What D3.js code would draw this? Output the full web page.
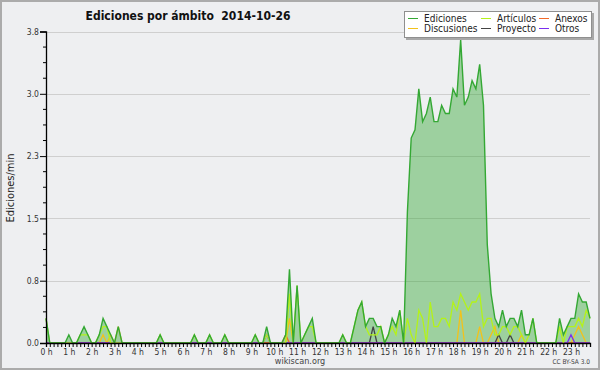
<!DOCTYPE html>
<html>
<head>
<meta charset="utf-8">
<script src="https://cdn.jsdelivr.net/npm/d3@7/dist/d3.min.js"></script>
<style>
  body { margin: 0; background: #fff; }
  text { font-family: "DejaVu Sans Condensed", "DejaVu Sans", sans-serif; }
</style>
</head>
<body>
<div id="chart"></div>
<script>
// Set up SVG dimensions
const w = 600;
const h = 370;
const margin = {top: 31.5, right: 10, bottom: 27, left: 46};

// Hour labels (one point every 10 minutes, 144 points)
const hours = d3.range(0, 24);
const yTicks = [0, 0.76, 1.52, 2.28, 3.04, 3.8];

// Ediciones por minuto, 10-minute buckets
const ediciones = [
  0.3,0,0,0,0,0,0.1,0,0,0.1,0.2,0.1,
  0,0,0.1,0.3,0.2,0.1,0,0.2,0,0,0,0,
  0,0,0,0,0,0,0.1,0,0,0,0,0,
  0,0,0,0.1,0,0,0,0.1,0,0,0,0.1,
  0,0,0,0,0,0,0,0.1,0,0,0.2,0,
  0,0,0,0.1,0.9,0,0.7,0,0.1,0.2,0.3,0,
  0,0,0,0,0,0,0.1,0,0,0.2,0.4,0.5,
  0.2,0.3,0.3,0.2,0.2,0,0.1,0.3,0.2,0.4,0,1.6,
  2.5,2.6,3.1,2.7,2.8,3.0,2.7,2.7,2.9,2.8,2.8,3.1,
  3.0,3.7,2.9,3.0,3.2,3.1,3.4,2.9,1.2,0.6,0.3,0.2,
  0.4,0.2,0.3,0.3,0.2,0.4,0.1,0.1,0.3,0,0,0,
  0,0,0,0.3,0.1,0.2,0.3,0.3,0.6,0.5,0.5,0.3
];
const articulos = [
  0.3,0,0,0,0,0,0,0,0,0.1,0.1,0.1,
  0,0,0.1,0.2,0.2,0,0,0,0,0,0,0,
  0,0,0,0,0,0,0.1,0,0,0,0,0,
  0,0,0,0.1,0,0,0,0.1,0,0,0,0.1,
  0,0,0,0,0,0,0,0.1,0,0,0.1,0,
  0,0,0,0,0.6,0,0.7,0,0.1,0.2,0.2,0,
  0,0,0,0,0,0,0.1,0,0,0.2,0.4,0.5,
  0.2,0.1,0.1,0.1,0.2,0,0.1,0.2,0.1,0.4,0,0.3,
  0.1,0,0.4,0.3,0,0.5,0.2,0.2,0.3,0.3,0.2,0.5,
  0.4,0.6,0.5,0.4,0.5,0.5,0.6,0.2,0.3,0.3,0.1,0.1,
  0.2,0.2,0.1,0.2,0.2,0.1,0,0.1,0.3,0,0,0,
  0,0,0,0.2,0,0.2,0.2,0.2,0.3,0.2,0.4,0.3
];
const discusiones = [
  0,0,0,0,0,0,0,0,0,0,0,0,
  0,0,0,0.1,0,0.1,0,0.2,0,0,0,0,
  0,0,0,0,0,0,0,0,0,0,0,0,
  0,0,0,0,0,0,0,0,0,0,0,0,
  0,0,0,0,0,0,0,0,0,0,0,0,
  0,0,0,0,0.3,0,0,0,0,0,0,0,
  0,0,0,0,0,0,0,0,0,0,0,0,
  0,0,0,0,0,0,0,0,0,0,0,0,
  0,0,0,0,0,0,0,0,0,0,0,0,
  0,0.4,0,0,0,0,0.2,0,0,0.1,0.2,0,
  0,0,0,0,0,0.1,0,0,0,0,0,0,
  0,0,0,0,0,0,0,0.1,0.2,0.1,0,0
];
const proyecto = [
  0,0,0,0,0,0,0,0,0,0,0,0,
  0,0,0,0,0,0,0,0,0,0,0,0,
  0,0,0,0,0,0,0,0,0,0,0,0,
  0,0,0,0,0,0,0,0,0,0,0,0,
  0,0,0,0,0,0,0,0,0,0,0,0,
  0,0,0,0,0,0,0,0,0,0,0,0,
  0,0,0,0,0,0,0,0,0,0,0,0,
  0,0,0.2,0,0,0,0,0,0,0,0,0,
  0,0,0,0,0,0,0,0,0,0,0,0,
  0,0,0,0,0,0,0,0,0,0,0,0.1,
  0,0,0.1,0,0,0,0,0,0,0,0,0,
  0,0,0,0,0,0,0,0,0,0,0,0
];
const anexos = [
  0,0,0,0,0,0,0,0,0,0,0,0,
  0,0,0,0,0,0,0,0,0,0,0,0,
  0,0,0,0,0,0,0,0,0,0,0,0,
  0,0,0,0,0,0,0,0,0,0,0,0,
  0,0,0,0,0,0,0,0,0,0,0,0,
  0,0,0,0.1,0,0,0,0,0,0,0,0,
  0,0,0,0,0,0,0,0,0,0,0,0,
  0,0,0,0,0,0,0,0,0,0,0,0,
  0,0,0,0,0,0,0,0,0,0,0,0,
  0,0,0,0,0,0,0,0,0,0,0,0,
  0,0,0,0,0,0,0,0,0,0,0,0,
  0,0,0,0,0,0,0,0,0,0,0,0
];
const otros = [
  0,0,0,0,0,0,0,0,0,0,0,0,
  0,0,0,0,0,0,0,0,0,0,0,0,
  0,0,0,0,0,0,0,0,0,0,0,0,
  0,0,0,0,0,0,0,0,0,0,0,0,
  0,0,0,0,0,0,0,0,0,0,0.1,0,
  0,0,0,0,0,0,0,0,0,0,0,0,
  0,0,0,0,0,0,0,0,0,0,0,0,
  0,0,0,0,0,0,0,0,0,0,0,0,
  0,0,0,0,0,0,0,0,0,0,0,0,
  0,0,0,0,0,0,0,0,0,0,0,0,
  0,0,0,0,0,0,0,0,0,0,0,0,
  0,0,0,0,0,0,0.1,0,0,0,0,0
];

const series = [
  {name: "Ediciones", values: ediciones, color: "#34a834"},
  {name: "Discusiones", values: discusiones, color: "#f2c21b"},
  {name: "Artículos", values: articulos, color: "#b4f21a"},
  {name: "Proyecto", values: proyecto, color: "#444444"},
  {name: "Anexos", values: anexos, color: "#f26a2a"},
  {name: "Otros", values: otros, color: "#7a2ef0"}
];

const svg = d3.select("#chart")
  .append("svg")
  .attr("width", w)
  .attr("height", h);

// Background and frame
svg.append("rect")
  .attr("x", 1).attr("y", 1)
  .attr("width", w - 2).attr("height", h - 2)
  .attr("fill", "#eeeff1")
  .attr("stroke", "#ababab")
  .attr("stroke-width", 2);

// Scales
const xScale = d3.scaleLinear()
  .domain([0, ediciones.length - 1])
  .range([margin.left, w - margin.right]);

const yScale = d3.scaleLinear()
  .domain([0, 3.8])
  .range([h - margin.bottom, margin.top]);

// Grid lines
svg.selectAll(".grid")
  .data(yTicks.slice(1))
  .enter()
  .append("line")
  .attr("x1", xScale(0))
  .attr("x2", xScale(ediciones.length - 1))
  .attr("y1", (d) => Math.round(yScale(d)) + 0.5)
  .attr("y2", (d) => Math.round(yScale(d)) + 0.5)
  .attr("stroke", "#cfcfcf")
  .attr("stroke-width", 1);

// Ediciones area
const area = d3.area()
  .x((d, i) => xScale(i))
  .y0(yScale(0))
  .y1((d) => yScale(d));

svg.append("path")
  .datum(ediciones)
  .attr("d", area)
  .attr("fill", "rgba(46,165,46,0.42)");

// Lines, drawn back to front
const line = d3.line()
  .x((d, i) => xScale(i))
  .y((d) => yScale(d));

const drawOrder = [series[1], series[3], series[4], series[5], series[2], series[0]];
drawOrder.forEach(function (s) {
  svg.append("path")
    .datum(s.values)
    .attr("d", line)
    .attr("fill", "none")
    .attr("stroke", s.color)
    .attr("stroke-width", s.name === "Ediciones" ? 1.4 : 1.3)
    .attr("stroke-linejoin", "miter");
});

// Y axis: major ticks with labels, minor ticks between
const minorY = d3.range(0, 20).map((i) => i * 0.19).filter((v, i) => i % 4 !== 0);
const yAxis = d3.axisLeft(yScale)
  .tickValues(yTicks)
  .tickSize(6)
  .tickPadding(1)
  .tickFormat(d3.format(".1f"));

const gy = svg.append("g")
  .attr("transform", "translate(" + margin.left + ",0)")
  .call(yAxis);
gy.selectAll("line.minor")
  .data(minorY)
  .enter()
  .append("line")
  .attr("class", "minor")
  .attr("x1", -3).attr("x2", 0)
  .attr("y1", (d) => yScale(d)).attr("y2", (d) => yScale(d))
  .attr("stroke", "#000");

// X axis: a tick every 10 minutes, labels every hour
const xAxis = d3.axisBottom(xScale)
  .tickValues(d3.range(0, ediciones.length))
  .tickSize(4)
  .tickPadding(2)
  .tickFormat((d) => d % 6 === 0 ? hours[d / 6] + " h" : "");

svg.append("g")
  .attr("transform", "translate(0," + yScale(0) + ")")
  .call(xAxis);

svg.selectAll(".domain").attr("stroke", "#000").attr("stroke-width", 1.3);
svg.selectAll(".tick text")
  .attr("fill", "#333")
  .style("font-size", "8.5px");

// Title
svg.append("text")
  .attr("x", 188)
  .attr("y", 20)
  .attr("text-anchor", "middle")
  .style("font-size", "12px")
  .style("font-weight", "bold")
  .attr("fill", "#111")
  .attr("xml:space", "preserve")
  .text("Ediciones por ámbito  2014-10-26");

// Y-axis label
svg.append("text")
  .attr("transform", "translate(13.5,188) rotate(-90)")
  .attr("text-anchor", "middle")
  .style("font-size", "11px")
  .attr("fill", "#222")
  .text("Ediciones/min");

// Footer
svg.append("text")
  .attr("x", 300)
  .attr("y", 364)
  .attr("text-anchor", "middle")
  .style("font-size", "9px")
  .attr("fill", "#444")
  .text("wikiscan.org");

svg.append("text")
  .attr("x", 590)
  .attr("y", 364)
  .attr("text-anchor", "end")
  .style("font-size", "6.5px")
  .attr("fill", "#444")
  .text("CC BY-SA 3.0");

// Legend
const legend = svg.append("g");
legend.append("rect")
  .attr("x", 406).attr("y", 13)
  .attr("width", 188).attr("height", 27)
  .attr("fill", "#a8a8a8");
legend.append("rect")
  .attr("x", 404.5).attr("y", 11.5)
  .attr("width", 187).attr("height", 26)
  .attr("fill", "#fff")
  .attr("stroke", "#8f8f8f");

const legendCols = [408, 481, 539];
const legendItems = legend.selectAll(".item")
  .data(series)
  .enter()
  .append("g")
  .attr("transform", (d, i) => "translate(" + legendCols[Math.floor(i / 2)] + "," + (i % 2 === 0 ? 18.5 : 28.5) + ")");

legendItems.append("line")
  .attr("x1", 0).attr("x2", 10)
  .attr("stroke", (d) => d.color)
  .attr("stroke-width", 1);

legendItems.append("text")
  .attr("x", 16)
  .attr("y", 3.5)
  .style("font-size", "10px")
  .attr("fill", "#222")
  .text((d) => d.name);
</script>
</body>
</html>
